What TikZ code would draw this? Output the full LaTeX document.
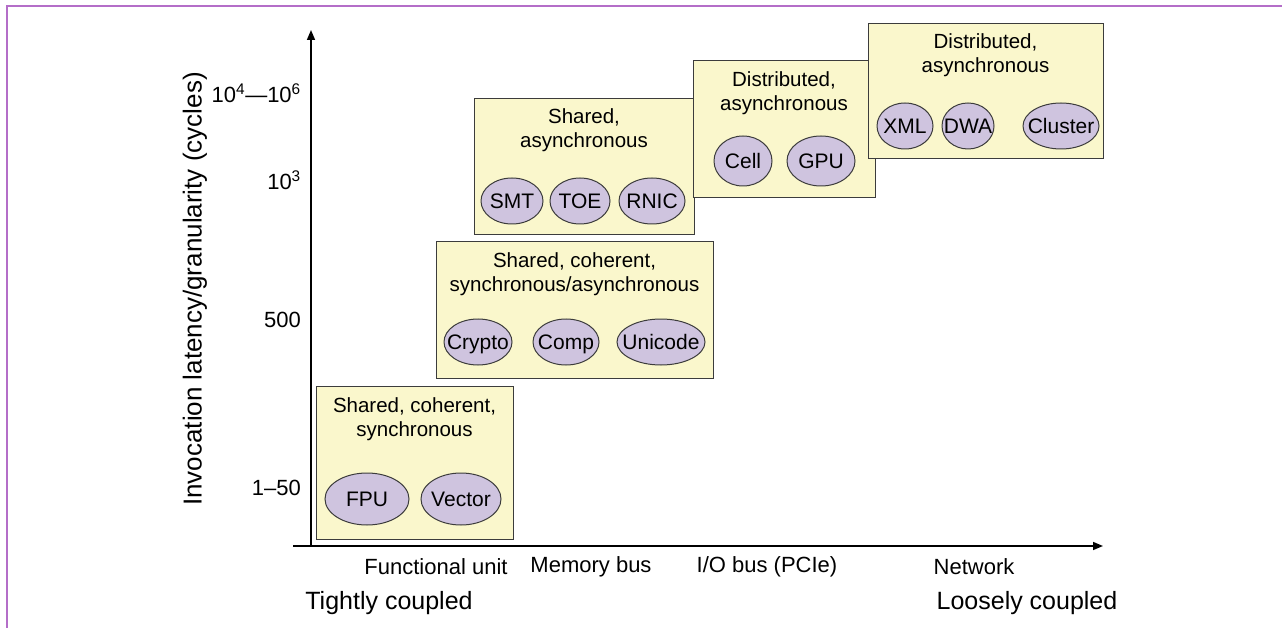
\documentclass[tikz,border=0pt]{standalone}
\usepackage{fontspec}
\setmainfont{Liberation Sans}
\usetikzlibrary{arrows.meta,shapes.geometric}
\definecolor{framec}{HTML}{B46EC8}
\definecolor{boxfill}{HTML}{FAF7CC}
\definecolor{boxline}{HTML}{3C3C3C}
\definecolor{ellfill}{HTML}{CFC4DF}
\begin{document}
\begin{tikzpicture}[x=1pt,y=-1pt,
  box/.style={draw=boxline, fill=boxfill, line width=1.4pt, anchor=north west, inner sep=0pt, rectangle},
  ell/.style={ellipse, draw=boxline, fill=ellfill, line width=1pt, inner sep=0pt},
  elab/.style={font=\fontsize{21}{24}\selectfont, inner sep=0pt, text height=15.1pt, text depth=0pt},
  lab/.style={font=\fontsize{22}{24}\selectfont, inner sep=0pt},
  title/.style={align=center, font=\fontsize{20.5}{24}\selectfont, inner sep=0pt},
  big/.style={font=\fontsize{25}{28}\selectfont, inner sep=0pt},
  axisline/.style={line width=1.6pt, -{Triangle[length=10pt,width=8pt]}}]
\path[use as bounding box] (0,0) rectangle (1282,628);
% frame
\draw[framec, line width=2pt] (7,628) -- (7,6) -- (1282,6);

% axes
\coordinate (O) at (311,546);
\coordinate (ytop) at (311,30);
\coordinate (xstart) at (293,546);
\coordinate (xend) at (1103,546);
\draw[axisline] (O) -- (ytop);
\draw[axisline] (xstart) -- (xend);

% y labels
\node[lab, anchor=east] (y4) at (301,93) {10\textsuperscript{4}—10\textsuperscript{6}};
\node[lab, anchor=east] (y3) at (301,180) {10\textsuperscript{3}};
\node[lab, anchor=east] (y2) at (301,320) {500};
\node[lab, anchor=east] (y1) at (301,488) {1–50};
\node[lab, font=\fontsize{26}{28}\selectfont, rotate=90] (ytitle) at (195,289) {Invocation latency/granularity (cycles)};

% x labels
\node[lab] (x1) at (436,567) {Functional unit};
\node[lab] (x2) at (591,567) {Memory bus};
\node[lab] (x3) at (767,567) {I/O bus (PCIe)};
\node[lab] (x4) at (974,567) {Network};
\node[big] (tight) at (389,603) {Tightly coupled};
\node[big] (loose) at (1027,603) {Loosely coupled};

% box 1
\node[box, minimum width=197pt, minimum height=153pt] (b1) at (316,386) {};
\node[title] (t1) at (414.5,419) {Shared, coherent,\\synchronous};
\node[ell, minimum width=84pt, minimum height=52pt, label={[elab]center:FPU}] (fpu) at (367,499) {};
\node[ell, minimum width=80pt, minimum height=52pt, label={[elab]center:Vector}] (vector) at (461,499) {};

% box 2
\node[box, minimum width=277pt, minimum height=137pt] (b2) at (436,241) {};
\node[title] (t2) at (574.5,274) {Shared, coherent,\\synchronous/asynchronous};
\node[ell, minimum width=68pt, minimum height=46pt, label={[elab]center:Crypto}] (crypto) at (478,342) {};
\node[ell, minimum width=66pt, minimum height=46pt, label={[elab]center:Comp}] (comp) at (566,342) {};
\node[ell, minimum width=88pt, minimum height=46pt, label={[elab]center:Unicode}] (unicode) at (661,342) {};

% box 3
\node[box, minimum width=220pt, minimum height=136pt] (b3) at (474,98) {};
\node[title] (t3) at (584,130) {Shared,\\asynchronous};
\node[ell, minimum width=62pt, minimum height=46pt, label={[elab]center:SMT}] (smt) at (512,201) {};
\node[ell, minimum width=60pt, minimum height=46pt, label={[elab]center:TOE}] (toe) at (580,201) {};
\node[ell, minimum width=66pt, minimum height=46pt, label={[elab]center:RNIC}] (rnic) at (652,201) {};

% box 4
\node[box, minimum width=182pt, minimum height=137pt] (b4) at (693,60) {};
\node[title] (t4) at (784,93) {Distributed,\\asynchronous};
\node[ell, minimum width=58pt, minimum height=50pt, label={[elab]center:Cell}] (cell) at (743,161) {};
\node[ell, minimum width=68pt, minimum height=50pt, label={[elab]center:GPU}] (gpu) at (821,161) {};

% box 5
\node[box, minimum width=235pt, minimum height=135pt] (b5) at (868,23) {};
\node[title] (t5) at (985.5,55) {Distributed,\\asynchronous};
\node[ell, minimum width=56pt, minimum height=46pt, label={[elab]center:XML}] (xml) at (905,126) {};
\node[ell, minimum width=52pt, minimum height=46pt, label={[elab]center:DWA}] (dwa) at (968,126) {};
\node[ell, minimum width=76pt, minimum height=46pt, label={[elab]center:Cluster}] (cluster) at (1061,126) {};
\end{tikzpicture}
\end{document}
